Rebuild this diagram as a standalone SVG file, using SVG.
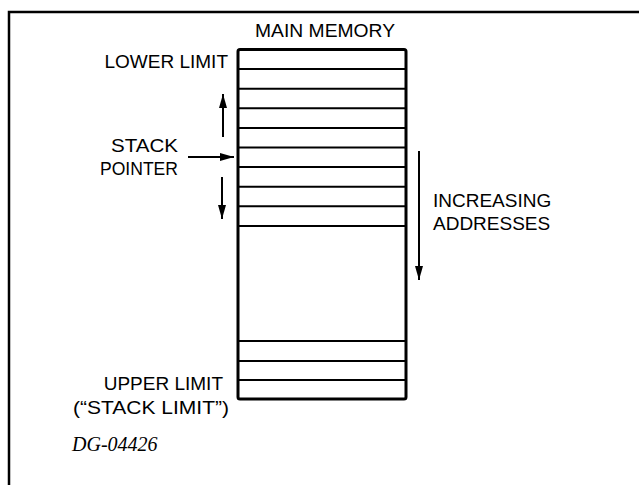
<svg xmlns="http://www.w3.org/2000/svg" width="639" height="485" viewBox="0 0 639 485">
<style>
  .lbl { font-family: "Liberation Sans", Arial, sans-serif; font-size: 19px; fill: #000; }
  .cell { stroke: #000; stroke-width: 2; fill: none; }
  .box { stroke: #000; stroke-width: 3; fill: none; stroke-linejoin: round; }
  .arr { stroke: #000; stroke-width: 2; fill: none; }
  .frame { stroke: #000; stroke-width: 2.5; fill: none; }
  .fig { font-family: "Liberation Serif", "Times New Roman", serif; font-style: italic; font-size: 20px; fill: #000; }
</style>
<defs>
  <marker id="ah" markerUnits="userSpaceOnUse" markerWidth="15" markerHeight="10" refX="14" refY="4" orient="auto">
    <path d="M0,0 L14,4 L0,8 Z" fill="#000"/>
  </marker>
</defs>
<rect width="639" height="485" fill="#fff"/>
<path class="frame" d="M9,485 V12 H639"/>

<g id="main-memory">
  <text class="lbl" x="325" y="37" text-anchor="middle" textLength="140" lengthAdjust="spacingAndGlyphs">MAIN MEMORY</text>
  <rect class="box" x="238" y="49.5" width="168" height="349.5" rx="2"/>
  <g class="cells">
    <line class="cell" x1="238" y1="69.1" x2="406" y2="69.1"/>
    <line class="cell" x1="238" y1="88.7" x2="406" y2="88.7"/>
    <line class="cell" x1="238" y1="108.3" x2="406" y2="108.3"/>
    <line class="cell" x1="238" y1="127.9" x2="406" y2="127.9"/>
    <line class="cell" x1="238" y1="147.5" x2="406" y2="147.5"/>
    <line class="cell" x1="238" y1="167.1" x2="406" y2="167.1"/>
    <line class="cell" x1="238" y1="186.7" x2="406" y2="186.7"/>
    <line class="cell" x1="238" y1="206.3" x2="406" y2="206.3"/>
    <line class="cell" x1="238" y1="226" x2="406" y2="226"/>
    <line class="cell" x1="238" y1="341" x2="406" y2="341"/>
    <line class="cell" x1="238" y1="361" x2="406" y2="361"/>
    <line class="cell" x1="238" y1="380" x2="406" y2="380"/>
  </g>
</g>

<g id="lower-limit">
  <text class="lbl" x="228" y="68" text-anchor="end">LOWER LIMIT</text>
</g>
<g id="stack-pointer">
  <text class="lbl" x="111" y="152" textLength="67" lengthAdjust="spacingAndGlyphs">STACK</text>
  <text class="lbl" x="100" y="175" textLength="78" lengthAdjust="spacingAndGlyphs">POINTER</text>
</g>
<g id="increasing-addresses">
  <text class="lbl" x="433" y="207">INCREASING</text>
  <text class="lbl" x="433" y="230">ADDRESSES</text>
</g>
<g id="upper-limit">
  <text class="lbl" x="223" y="390" text-anchor="end">UPPER LIMIT</text>
  <text class="lbl" x="73" y="414" textLength="156" lengthAdjust="spacingAndGlyphs">(“STACK LIMIT”)</text>
</g>
<g id="figure-id">
  <text class="fig" x="72" y="451">DG-04426</text>
</g>

<g id="connectors">
  <line class="arr" x1="188" y1="157" x2="234" y2="157" marker-end="url(#ah)"/>
  <line class="arr" x1="223" y1="137" x2="223" y2="94" marker-end="url(#ah)"/>
  <line class="arr" x1="222" y1="177" x2="222" y2="219" marker-end="url(#ah)"/>
  <line class="arr" x1="419" y1="151" x2="419" y2="280" marker-end="url(#ah)"/>
</g>
</svg>
